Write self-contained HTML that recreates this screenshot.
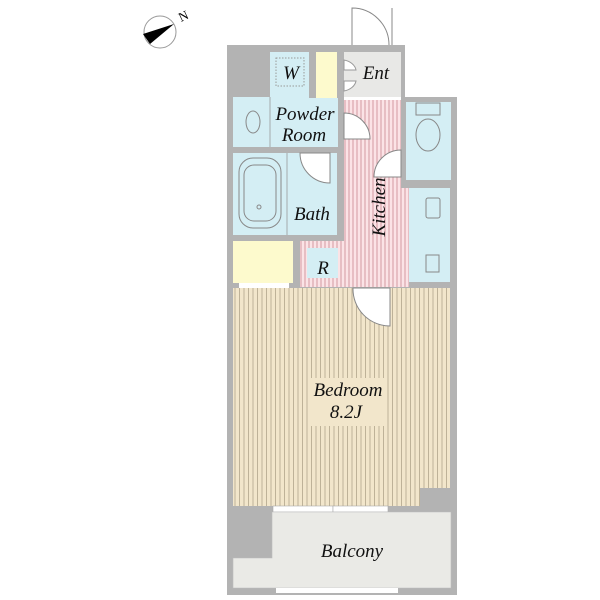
<!DOCTYPE html>
<html><head><style>body{margin:0;background:#fff}svg{display:block}</style></head><body>
<svg width="600" height="600" viewBox="0 0 600 600" xmlns="http://www.w3.org/2000/svg" font-family="Liberation Serif, serif" font-style="italic">
<defs>
<pattern id="pk" width="4" height="10" patternUnits="userSpaceOnUse"><rect width="4" height="10" fill="#fbe3e6"/><line x1="1" y1="0" x2="1" y2="10" stroke="#c9878f" stroke-width="0.8"/></pattern>
<pattern id="bd" width="4.5" height="10" patternUnits="userSpaceOnUse"><rect width="4.5" height="10" fill="#f2e6cb"/><line x1="1" y1="0" x2="1" y2="10" stroke="#a89c82" stroke-width="0.7"/></pattern>
</defs>
<circle cx="160" cy="32" r="16" fill="#fff" stroke="#999"/>
<polygon points="174,24 143,34 150,44" fill="#000"/>
<text x="181" y="22" font-size="13" font-style="normal" transform="rotate(-25 181 22)">N</text>
<path d="M352 45 L352 8 A37 37 0 0 1 389 45" fill="#fff" stroke="#888"/>
<line x1="392" y1="8" x2="392" y2="45" stroke="#888"/>
<path d="M227 45 H405 V97 H457 V595 H227 Z" fill="#b3b3b3"/>
<rect x="270" y="52" width="68" height="95" fill="#d4eef4"/>
<rect x="309" y="45" width="35" height="53" fill="#b3b3b3"/>
<rect x="233" y="97" width="37" height="50" fill="#d4eef4"/>
<line x1="270" y1="97" x2="270" y2="147" stroke="#999" stroke-width="0.8"/>
<rect x="276" y="58" width="28" height="28" fill="none" stroke="#999" stroke-dasharray="1.5,1.5"/>
<ellipse cx="253" cy="122" rx="7" ry="11" fill="none" stroke="#888"/>
<rect x="316" y="52" width="21" height="46" fill="#fdfacd"/>
<rect x="344" y="52" width="57" height="45" fill="#e8e8e6"/>
<rect x="344" y="97" width="57" height="3" fill="#fff"/>
<path d="M344 100 H401 V188 H409 V287 H344 Z" fill="url(#pk)"/>
<rect x="406" y="102" width="45" height="78" fill="#d4eef4"/>
<ellipse cx="428" cy="135" rx="12" ry="16" fill="none" stroke="#888"/>
<rect x="416" y="103" width="24" height="12" fill="none" stroke="#888"/>
<rect x="409" y="188" width="41" height="94" fill="#d4eef4"/>
<rect x="426" y="198" width="14" height="20" rx="2" fill="none" stroke="#888"/>
<rect x="426" y="255" width="13" height="17" fill="none" stroke="#888"/>
<rect x="233" y="153" width="104" height="82" fill="#d4eef4"/>
<line x1="287" y1="153" x2="287" y2="235" stroke="#999" stroke-width="0.8"/>
<rect x="239" y="158" width="42" height="70" rx="14" fill="none" stroke="#888"/>
<rect x="244" y="165" width="32" height="56" rx="10" fill="none" stroke="#888"/>
<circle cx="259" cy="207" r="2" fill="none" stroke="#888"/>
<rect x="233" y="241" width="60" height="42" fill="#fdfacd"/>
<rect x="239" y="283" width="50" height="5" fill="#fff"/>
<rect x="300" y="241" width="45" height="46" fill="url(#pk)"/>
<rect x="307" y="248" width="31" height="30" fill="#d4eef4"/>
<path d="M344 113 A26 26 0 0 1 370 139 L344 139 Z" fill="#fff" stroke="#888"/>
<path d="M401 150 A27 27 0 0 0 374 177 L401 177 Z" fill="#fff" stroke="#888"/>
<path d="M330 153 V183 A30 30 0 0 1 300 153 Z" fill="#fff" stroke="#888"/>
<path d="M344 60 A16 12 0 0 1 356 70 L344 70 Z M344 91 A16 12 0 0 0 356 81 L344 81 Z" fill="#fff" stroke="#999"/>
<path d="M233 288 H450 V488 H420 V506 H233 Z" fill="url(#bd)"/>
<path d="M353 288 H390 V326 A37 37 0 0 1 353 288 Z" fill="#fff" stroke="#888"/>
<rect x="273" y="506" width="60" height="6" fill="#fff" stroke="#aaa" stroke-width="0.6"/>
<rect x="333" y="506" width="55" height="6" fill="#fff" stroke="#aaa" stroke-width="0.6"/>
<path d="M272 512 H451 V588 H233 V558 H272 Z" fill="#eaeae6" stroke="#bbb" stroke-width="0.6"/>
<rect x="276" y="588" width="122" height="5" fill="#fff"/>
<g font-size="19" fill="#111" text-anchor="middle">
<text x="291" y="79">W</text>
<text x="376" y="79">Ent</text>
<text x="305" y="120">Powder</text>
<text x="304" y="141">Room</text>
<text x="312" y="220">Bath</text>
<text x="323" y="274">R</text>
<text x="0" y="0" transform="translate(385 207) rotate(-90)">Kitchen</text>
<rect x="309" y="378" width="78" height="48" fill="#f2e6cb"/>
<text x="348" y="396">Bedroom</text>
<text x="346" y="418">8.2J</text>
<text x="352" y="557">Balcony</text>
</g>
</svg>
</body></html>
